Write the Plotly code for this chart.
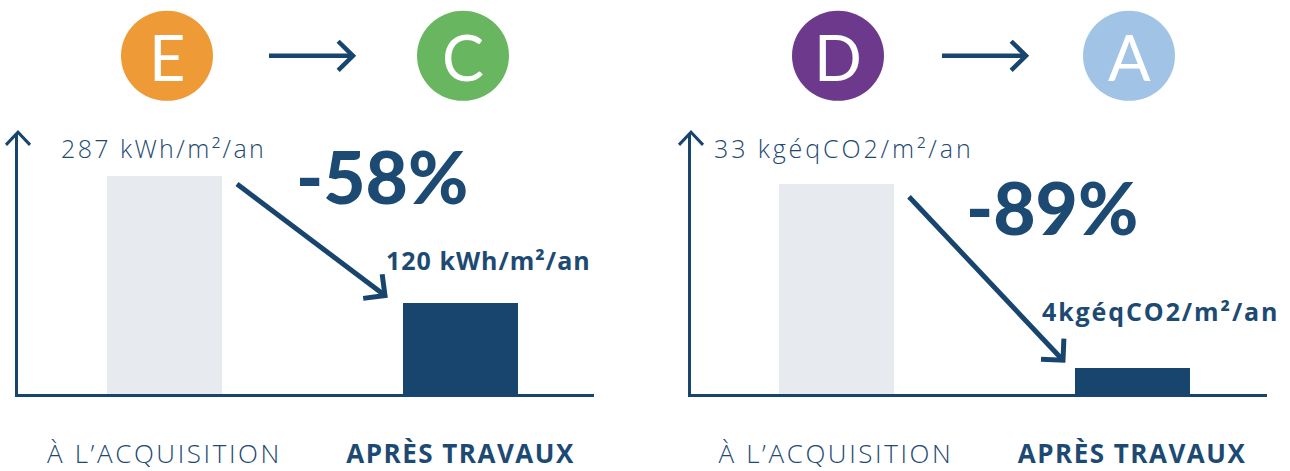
import json
import math
import plotly.graph_objects as go

# ---------------- data ----------------
categories = ["À L’ACQUISITION", "APRÈS TRAVAUX"]
energy_values = [287, 120]
energy_labels = ["287 kWh/m²/an", "120 kWh/m²/an"]
energy_change = "-58%"
energy_classes = ["E", "C"]
energy_class_colors = ["#EE9A37", "#68B65F"]

co2_values = [33, 4]
co2_labels = ["33 kgéqCO2/m²/an", "4kgéqCO2/m²/an"]
co2_change = "-89%"
co2_classes = ["D", "A"]
co2_class_colors = ["#6C398C", "#A1C4E6"]

# ---------------- styling ----------------
W, H = 1290, 471
NAVY = "#18456D"
TEXT = "#1D4A73"
LIGHT = "#E7EAEF"
FONT = "Open Sans"
BIGFONT = "Lato"
BAR_W = 0.3885


def px(x):
    return x / W


def py(y):
    return (H - y) / H


fig = go.Figure()

fig.add_trace(go.Bar(x=[0, 1], y=energy_values, width=BAR_W,
                     marker=dict(color=[LIGHT, NAVY], line=dict(width=0)),
                     xaxis="x", yaxis="y", hoverinfo="skip"))
fig.add_trace(go.Bar(x=[0, 1], y=co2_values, width=BAR_W,
                     marker=dict(color=[LIGHT, NAVY], line=dict(width=0)),
                     xaxis="x2", yaxis="y2", hoverinfo="skip"))

ticktext = [categories[0], "<b>" + categories[1] + "</b>"]
xcommon = dict(showgrid=False, zeroline=False, showline=True, linecolor=NAVY,
               linewidth=3, tickmode="array", tickvals=[0, 1], ticktext=ticktext,
               ticks="", ticklabelstandoff=35, fixedrange=True,
               tickfont=dict(family=FONT, size=26, color=TEXT, weight=300))
ycommon = dict(showgrid=False, zeroline=False, showline=True, linecolor=NAVY,
               linewidth=3, showticklabels=False, ticks="", fixedrange=True)

ydom = [py(402.5), py(136)]
fig.update_layout(
    width=W, height=H, margin=dict(l=0, r=0, t=0, b=0),
    paper_bgcolor="white", plot_bgcolor="white", showlegend=False,
    bargap=0,
    xaxis=dict(domain=[px(18), px(594)], range=[(18 - 164.5) / 296, (594 - 164.5) / 296],
               anchor="y", **xcommon),
    yaxis=dict(domain=ydom, range=[0, (402.5 - 136) / 0.775], anchor="x", **ycommon),
    xaxis2=dict(domain=[px(691), px(1267)], range=[(691 - 836) / 296, (1267 - 836) / 296],
                anchor="y2", **xcommon),
    yaxis2=dict(domain=ydom, range=[0, (402.5 - 136) / 6.5], anchor="x2", **ycommon),
)

shapes = []
annotations = []


def seg_path(points):
    return "M " + " L ".join(f"{px(x):.5f},{py(y):.5f}" for x, y in points)


def add_path(points, width):
    shapes.append(dict(type="path", xref="paper", yref="paper", path=seg_path(points),
                       line=dict(color=NAVY, width=width), fillcolor="rgba(0,0,0,0)"))


def arrow(x0, y0, x1, y1, head=22, width=5):
    dx, dy = x1 - x0, y1 - y0
    L = math.hypot(dx, dy)
    ux, uy = -dx / L, -dy / L
    c = math.cos(math.pi / 4)
    a1 = (ux * c - uy * c, ux * c + uy * c)
    a2 = (ux * c + uy * c, -ux * c + uy * c)
    add_path([(x0, y0), (x1, y1)], width)
    add_path([(x1 + head * a1[0], y1 + head * a1[1]), (x1, y1),
              (x1 + head * a2[0], y1 + head * a2[1])], width)


def circle(cx, cy, r, color, letter):
    shapes.append(dict(type="circle", xref="paper", yref="paper",
                       x0=px(cx - r), x1=px(cx + r), y0=py(cy + r), y1=py(cy - r),
                       fillcolor=color, line=dict(width=0)))
    annotations.append(dict(x=px(cx), y=py(cy + 1), xref="paper", yref="paper",
                            text=letter, showarrow=False, xanchor="center", yanchor="middle",
                            font=dict(family=BIGFONT, size=63, color="white", weight=400)))


# class circles + arrows
circle(167, 57, 46, energy_class_colors[0], energy_classes[0])
circle(463, 57, 46, energy_class_colors[1], energy_classes[1])
arrow(269, 57, 353, 57, head=21, width=4.5)
circle(838, 57, 46, co2_class_colors[0], co2_classes[0])
circle(1129, 57, 46, co2_class_colors[1], co2_classes[1])
arrow(942, 57, 1026, 57, head=21, width=4.5)

# y-axis arrowheads
for x in (18, 691):
    add_path([(x - 12, 148), (x, 135), (x + 12, 148)], 3)

# diagonal arrows
arrow(237, 188, 385, 302, head=22, width=5)
arrow(909, 201, 1063, 368, head=22, width=5)


def label(x, y, text, size, weight, family=FONT):
    annotations.append(dict(x=px(x), y=py(y), xref="paper", yref="paper", text=text,
                            showarrow=False, xanchor="left", yanchor="middle", align="left",
                            font=dict(family=family, size=size, color=TEXT, weight=weight)))


label(59, 151, energy_labels[0], 25, 300)
label(384, 266, energy_labels[1], 25, 700)
label(294, 180, energy_change, 73, 900, BIGFONT)
label(712, 151, co2_labels[0], 25, 300)
label(1040, 318, co2_labels[1], 25, 700)
label(964, 212, co2_change, 73, 900, BIGFONT)

fig.update_layout(shapes=shapes, annotations=annotations)

# letter spacing (the reference typography is widely tracked)
spacing = {
    energy_labels[0]: "2.4px", co2_labels[0]: "2.9px",
    energy_labels[1]: "1.0px", co2_labels[1]: "1.9px",
    categories[0]: "2.6px", categories[1]: "1.5px",
}
post = """
document.body.style.margin='0';document.body.style.overflow='hidden';
var gd=document.getElementById('{plot_id}');
var SP=%s;
function applySpacing(){
  gd.querySelectorAll('text').forEach(function(t){
    var s=SP[t.textContent];
    if(s){t.style.letterSpacing=s;}
  });
}
applySpacing();
if(gd.on){gd.on('plotly_afterplot',applySpacing);}
""" % json.dumps(spacing, ensure_ascii=False)

fig.write_html("out.html", config={"displayModeBar": False}, post_script=post)
